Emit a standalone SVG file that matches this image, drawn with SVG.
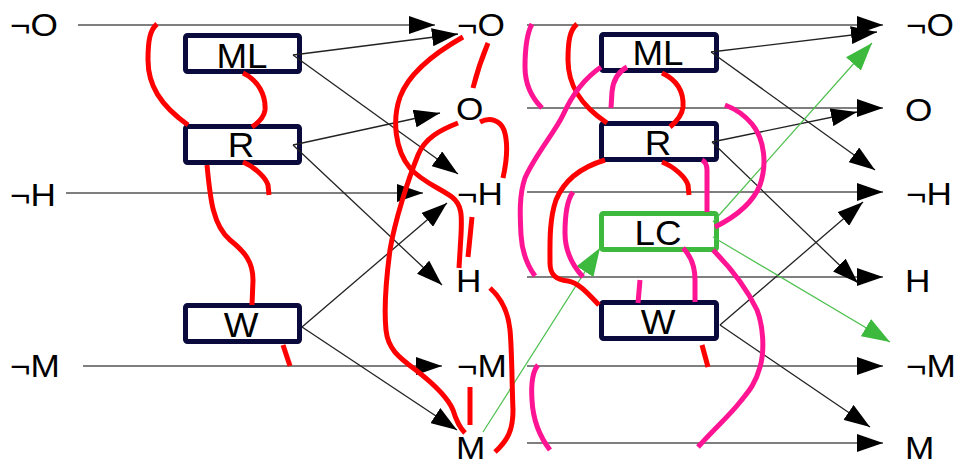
<svg xmlns="http://www.w3.org/2000/svg" width="961" height="463" viewBox="0 0 961 463">
  <style>
    .lbl { font-family: "Liberation Sans", Arial, sans-serif; font-size: 32px; fill: #000; }
    .btxt { font-family: "Liberation Sans", Arial, sans-serif; font-size: 35px; fill: #000; text-anchor: middle; }
    .box { fill: #fff; stroke: #0a0a3c; stroke-width: 5; }
    .gbox { fill: #fff; stroke: #3dba3d; stroke-width: 5; }
    .ln { fill: none; stroke: #555; stroke-width: 1.5; }
    .dg { fill: none; stroke: #222; stroke-width: 1.3; marker-end: url(#ah); }
    .hz { marker-end: url(#ah); }
    .gl { fill: none; stroke: #4cbf4c; stroke-width: 1.2; marker-end: url(#gah); }
    .red { fill: none; stroke: #ff0000; stroke-width: 5; }
    .pink { fill: none; stroke: #ff1493; stroke-width: 5; }
  </style>
  <defs>
    <marker id="ah" markerUnits="userSpaceOnUse" markerWidth="26" markerHeight="18" refX="26" refY="9" orient="auto">
      <path d="M0,0 L26,9 L0,18 Z" fill="#000"/>
    </marker>
    <marker id="gah" markerUnits="userSpaceOnUse" markerWidth="28" markerHeight="20" refX="28" refY="10" orient="auto">
      <path d="M0,0 L28,10 L0,20 Z" fill="#3dba3d"/>
    </marker>
  </defs>

  <rect width="961" height="463" fill="#fff"/>

  <!-- state labels -->
  <g id="left-labels">
    <text class="lbl" transform="translate(10,36) scale(1.1,1)">¬O</text>
    <text class="lbl" transform="translate(10,206) scale(1.1,1)">¬H</text>
    <text class="lbl" transform="translate(10,377) scale(1.1,1)">¬M</text>
  </g>
  <g id="mid-labels">
    <text class="lbl" transform="translate(457,36) scale(1.1,1)">¬O</text>
    <text class="lbl" transform="translate(456,120) scale(1.1,1)">O</text>
    <text class="lbl" transform="translate(457,205) scale(1.1,1)">¬H</text>
    <text class="lbl" transform="translate(456,292) scale(1.1,1)">H</text>
    <text class="lbl" transform="translate(457,377) scale(1.1,1)">¬M</text>
    <text class="lbl" transform="translate(456,459) scale(1.1,1)">M</text>
  </g>
  <g id="right-labels">
    <text class="lbl" transform="translate(906,36) scale(1.1,1)">¬O</text>
    <text class="lbl" transform="translate(905,121) scale(1.1,1)">O</text>
    <text class="lbl" transform="translate(906,205) scale(1.1,1)">¬H</text>
    <text class="lbl" transform="translate(905,292) scale(1.1,1)">H</text>
    <text class="lbl" transform="translate(906,377) scale(1.1,1)">¬M</text>
    <text class="lbl" transform="translate(905,459) scale(1.1,1)">M</text>
  </g>

  <!-- operator boxes -->
  <g id="left-ML"><rect class="box" x="185.5" y="35.5" width="114" height="36" rx="2"/><text class="btxt" transform="translate(242,68) scale(1.05,1)">ML</text></g>
  <g id="left-R"><rect class="box" x="185.5" y="126.5" width="114" height="36" rx="2"/><text class="btxt" transform="translate(241,157) scale(1.05,1)">R</text></g>
  <g id="left-W"><rect class="box" x="185.5" y="305.5" width="114" height="36" rx="2"/><text class="btxt" transform="translate(241,337) scale(1.05,1)">W</text></g>
  <g id="right-ML"><rect class="box" x="601.5" y="34.5" width="115" height="36" rx="2"/><text class="btxt" transform="translate(658,65) scale(1.05,1)">ML</text></g>
  <g id="right-R"><rect class="box" x="601.5" y="123.5" width="115" height="36" rx="2"/><text class="btxt" transform="translate(658,155) scale(1.05,1)">R</text></g>
  <g id="right-LC"><rect class="gbox" x="601.5" y="213.5" width="115" height="36" rx="2"/><text class="btxt" transform="translate(658,245) scale(1.05,1)">LC</text></g>
  <g id="right-W"><rect class="box" x="601.5" y="302.5" width="115" height="36" rx="2"/><text class="btxt" transform="translate(658,334) scale(1.05,1)">W</text></g>

  <!-- connectors -->
  <g id="connectors">
    <!-- frame axioms, first step -->
    <path class="ln hz" d="M78,25 L435,25"/>
    <path class="ln hz" d="M66,193 L423,193"/>
    <path class="ln hz" d="M83,366 L442,366"/>
    <!-- effects, first step -->
    <path class="dg" d="M293,55 L458,34"/>
    <path class="dg" d="M293,55 L458,174"/>
    <path class="dg" d="M293,145 L440,113"/>
    <path class="dg" d="M293,145 L442,285"/>
    <path class="dg" d="M302,327 L447,203"/>
    <path class="dg" d="M302,327 L457,430"/>
    <!-- frame axioms, second step -->
    <path class="ln hz" d="M527,25 L883,25"/>
    <path class="ln hz" d="M527,108 L883,108"/>
    <path class="ln hz" d="M527,192 L883,192"/>
    <path class="ln hz" d="M527,277 L883,277"/>
    <path class="ln hz" d="M527,366 L883,366"/>
    <path class="ln hz" d="M527,443 L883,443"/>
    <!-- effects, second step -->
    <path class="dg" d="M711,52 L877,32"/>
    <path class="dg" d="M711,52 L875,170"/>
    <path class="dg" d="M712,142 L857,112"/>
    <path class="dg" d="M712,142 L858,283"/>
    <path class="dg" d="M720,325 L863,202"/>
    <path class="dg" d="M720,325 L870,427"/>
    <!-- LC links -->
    <path class="gl" d="M483,432 L600,248"/>
    <path class="gl" d="M713,222 L872,43"/>
    <path class="gl" d="M713,237 L890,342"/>
  </g>

  <!-- mutex marks, first step -->
  <g id="mutex-red">
    <path class="red" d="M157,24 C150,30 148,40 148,60 C148,85 160,105 188,125"/>
    <path class="red" d="M243,73 C258,80 266,95 265,110 C264,118 258,123 252,127"/>
    <path class="red" d="M243,162 C255,167 266,178 268,185 L269,195"/>
    <path class="red" d="M207,165 C210,195 212,225 230,240 C245,252 253,262 253,280 L252,305"/>
    <path class="red" d="M283,345 L290,366"/>
    <path class="red" d="M463,37 C440,50 410,70 400,97 C392,120 395,150 410,168 C422,182 440,188 452,197 C462,205 462,215 461,235 L459,268"/>
    <path class="red" d="M472,217 L468,257"/>
    <path class="red" d="M458,123 C440,130 425,138 418,155 C408,180 395,220 390,250 C386,280 384,310 386,330 C388,350 400,358 417,371 C435,385 448,398 453,410 C456,420 460,428 465,433"/>
    <path class="red" d="M480,122 C490,117 500,120 504,130 C508,142 507,160 503,178"/>
    <path class="red" d="M488,43 C483,55 478,68 473,88"/>
    <path class="red" d="M490,288 C500,297 508,310 510,330 C512,350 512,390 513,410 C513,430 508,440 495,452"/>
    <path class="red" d="M470,387 L470,425"/>
    <path class="red" d="M577,24 C570,30 568,40 568,60 C568,85 580,105 607,123"/>
    <path class="red" d="M662,73 C677,80 684,92 683,107 C682,116 676,122 670,127"/>
    <path class="red" d="M662,162 C675,167 686,178 688,185 L689,195"/>
    <path class="red" d="M605,160 C585,166 565,178 556,200 C549,220 550,245 550,263 C550,275 556,280 568,281 C580,283 590,296 599,305"/>
    <path class="red" d="M702,345 L708,367"/>
  </g>

  <!-- mutex marks, second step -->
  <g id="mutex-pink">
    <path class="pink" d="M532,24 C526,35 525,50 525,67 C525,85 532,98 542,108"/>
    <path class="pink" d="M601,67 C585,78 572,95 563,115 C555,132 535,155 525,178 C519,195 520,215 521,235 C522,252 527,265 535,276"/>
    <path class="pink" d="M627,67 C618,72 613,80 612,92 L611,108"/>
    <path class="pink" d="M573,192 C567,200 565,215 565,233 C565,252 572,265 583,277"/>
    <path class="pink" d="M702,160 C706,162 707,165 707,170 L707,212"/>
    <path class="pink" d="M715,227 C733,218 752,205 760,185 C767,165 765,140 752,124 C742,112 733,108 725,105"/>
    <path class="pink" d="M683,248 C690,255 695,265 695,280 L695,302"/>
    <path class="pink" d="M640,280 L638,303"/>
    <path class="pink" d="M713,250 C725,262 745,285 757,310 C763,325 765,350 760,367 C755,385 748,392 740,402 C730,415 715,428 698,447"/>
    <path class="pink" d="M538,365 C532,372 531,385 532,400 C533,420 540,437 550,450"/>
  </g>
</svg>
